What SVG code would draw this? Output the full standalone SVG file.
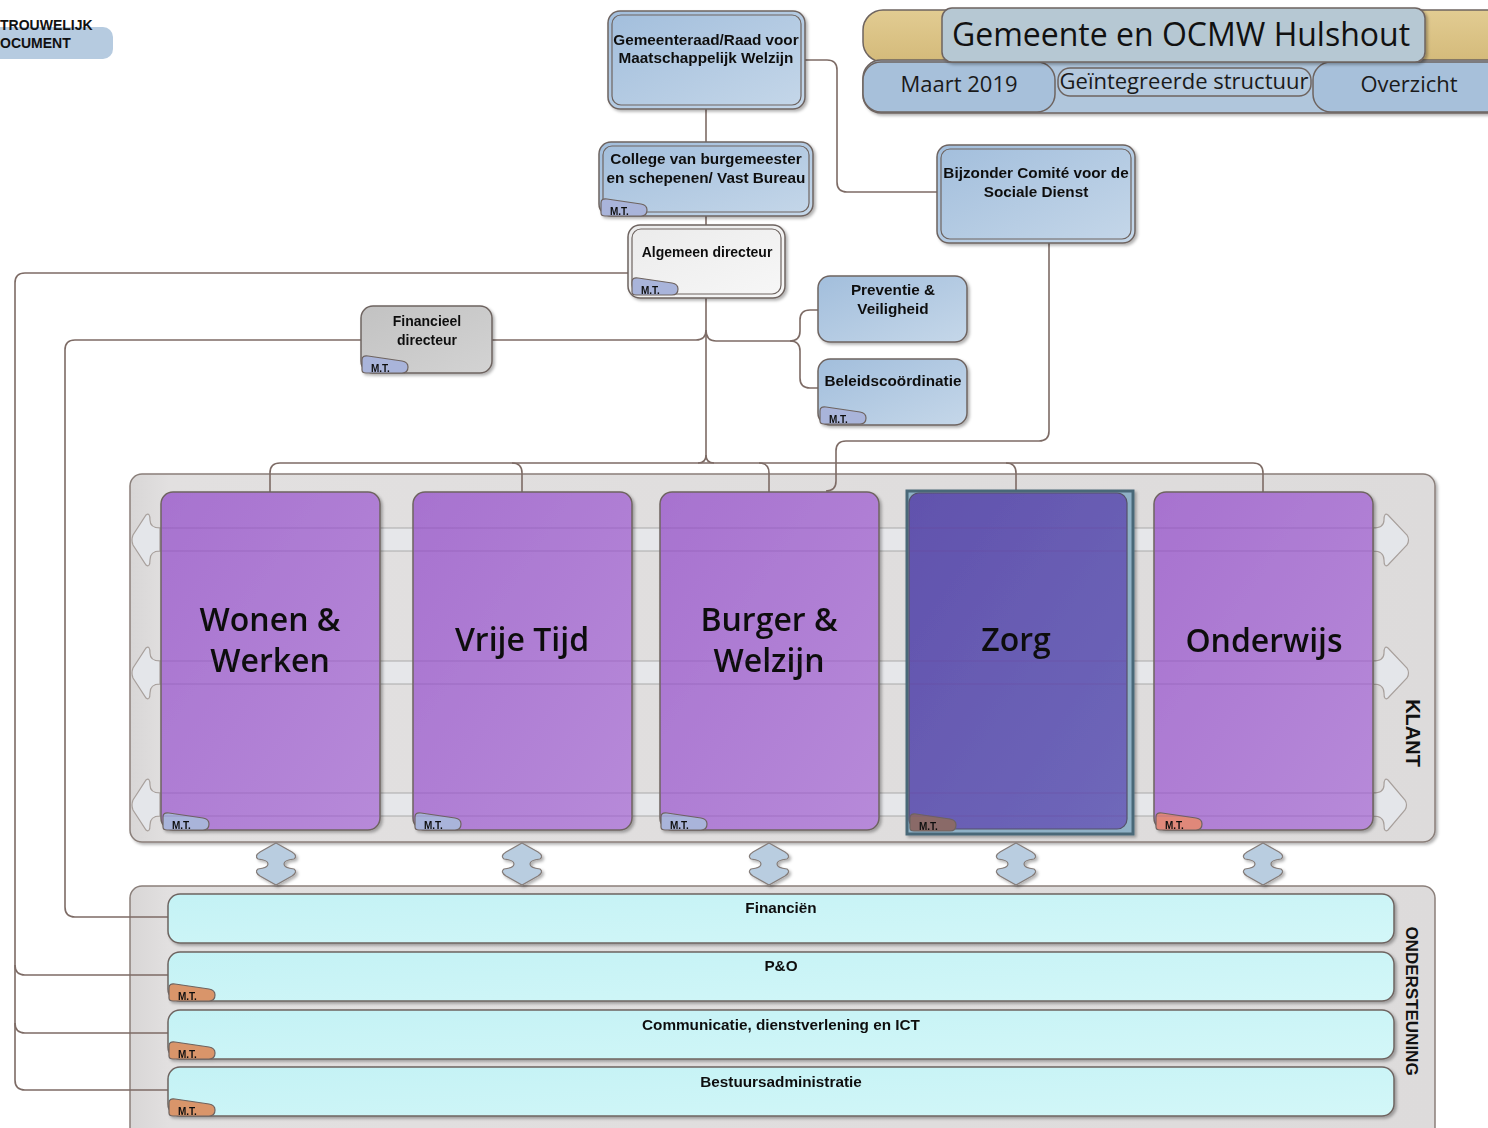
<svg xmlns="http://www.w3.org/2000/svg" xmlns:xlink="http://www.w3.org/1999/xlink" width="1488" height="1128" viewBox="0 0 1488 1128">
<style>
.t{font-family:"Liberation Sans",Arial,sans-serif;font-weight:bold;font-size:15.3px;fill:#111;text-anchor:middle}
.t14{font-size:14px}
.big{font-family:"Open Sans","Noto Sans",sans-serif;font-weight:600;font-size:32px;fill:#111;text-anchor:middle}
.hdr{font-family:"Open Sans","Noto Sans",sans-serif;font-size:22px;fill:#1a1a1a;text-anchor:middle}
.st{stroke:#6e6460;stroke-width:1.5}
.con{fill:none;stroke:#7d6b65;stroke-width:1.6}
.blue{fill:url(#gBlue)}
.arr{fill:#e4e6ea;stroke:#a8a09c;stroke-width:1.2}
.varr{fill:#b9cde0;stroke:#857d7a;stroke-width:1.2}
.strip{fill:#e6e7ea;stroke:#aaa;stroke-width:1}
.row{fill:url(#gCyan);stroke:#6e6460;stroke-width:1.5}
.mtb{fill:#a9b4da}
.mto{fill:#d9956b}
</style>
<defs>
<linearGradient id="gBlue" x1="0" y1="0" x2="1" y2="1"><stop offset="0" stop-color="#a2bedc"/><stop offset="1" stop-color="#c5d7e9"/></linearGradient>
<linearGradient id="gGray" x1="0" y1="0" x2="1" y2="1"><stop offset="0" stop-color="#c2c2c2"/><stop offset="1" stop-color="#d3d3d3"/></linearGradient>
<linearGradient id="gWhite" x1="0" y1="0" x2="1" y2="1"><stop offset="0" stop-color="#ebebeb"/><stop offset="1" stop-color="#f7f7f7"/></linearGradient>
<linearGradient id="gPurple" x1="0" y1="0" x2="1" y2="1"><stop offset="0" stop-color="#a772cf"/><stop offset="1" stop-color="#b78ad9"/></linearGradient>
<linearGradient id="gZorg" x1="0" y1="0" x2="1" y2="1"><stop offset="0" stop-color="#6152ad"/><stop offset="1" stop-color="#6f68ba"/></linearGradient>
<linearGradient id="gCyan" x1="0" y1="0" x2="1" y2="1"><stop offset="0" stop-color="#c4f2f5"/><stop offset="1" stop-color="#d3f7f8"/></linearGradient>
<linearGradient id="gTan" x1="0" y1="0" x2="0" y2="1"><stop offset="0" stop-color="#e2cc92"/><stop offset="1" stop-color="#d4ba7a"/></linearGradient>
<linearGradient id="gCont" x1="0" y1="0" x2="1" y2="0"><stop offset="0" stop-color="#d8d6d6"/><stop offset="0.03" stop-color="#e2e0e0"/><stop offset="1" stop-color="#dddbdb"/></linearGradient>
<filter id="sh" x="-5%" y="-5%" width="115%" height="120%"><feDropShadow dx="2" dy="2" stdDeviation="1.5" flood-color="#000" flood-opacity="0.3"/></filter>
<g id="mt">
<path d="M0,-3 V-13 Q0,-18 6,-17 L40,-12 Q46,-11 46,-6 Q46,0 40,0 H4 Q0,0 0,-3 Z" stroke="#6e6460" stroke-width="1.2"/>
<text x="9" y="-1.5" font-family="Liberation Sans,Arial,sans-serif" font-weight="bold" font-size="10" fill="#111">M.T.</text>
</g>
</defs>

<!-- top-left badge -->
<g id="badge">
<rect x="-20" y="27" width="133" height="32" rx="10" fill="#b6cbe0"/>
<text x="0" y="30" font-family="Liberation Sans,Arial,sans-serif" font-weight="bold" font-size="14" fill="#111">TROUWELIJK</text>
<text x="0" y="48" font-family="Liberation Sans,Arial,sans-serif" font-weight="bold" font-size="14" fill="#111">OCUMENT</text>
</g>

<!-- header -->
<g id="header">
<rect x="863" y="10" width="650" height="52" rx="20" fill="url(#gTan)" class="st"/>
<rect x="863" y="60" width="650" height="53" rx="18" fill="#b0c6dc" class="st" filter="url(#sh)"/>
<rect x="863" y="62" width="192" height="50" rx="18" fill="#a7c0da" class="st"/>
<rect x="1313" y="62" width="200" height="50" rx="18" fill="#a7c0da" class="st"/>
<rect x="1058" y="68" width="253" height="28" rx="12" fill="#b4c9de" class="st"/>
<rect x="942" y="8" width="483" height="54" rx="10" fill="#b6c8d3" class="st" filter="url(#sh)"/>
<text x="1181" y="46" font-family="Open Sans,Noto Sans,sans-serif" font-size="32" font-weight="500" fill="#111" text-anchor="middle">Gemeente en OCMW Hulshout</text>
<text x="959" y="92" class="hdr">Maart 2019</text>
<text x="1184" y="89" class="hdr" font-size="18.6">Geïntegreerde structuur</text>
<text x="1409" y="92" class="hdr">Overzicht</text>
</g>

<!-- containers -->
<g id="klant">
<rect x="130" y="474" width="1305" height="368" rx="12" fill="url(#gCont)" stroke="#8a7f7a" stroke-width="1.5" filter="url(#sh)"/>
<rect x="140" y="528" width="1250" height="23" class="strip"/>
<rect x="140" y="661" width="1250" height="23" class="strip"/>
<rect x="140" y="793" width="1250" height="23" class="strip"/>
<path class="arr" d="M160,528 Q150,528 150,520 Q150,512 146,515 L133,535 Q131,540 133,545 L146,565 Q150,568 150,560 Q150,551 160,551 Z"/>
<path class="arr" d="M160,661 Q150,661 150,653 Q150,645 146,648 L133,668 Q131,673 133,678 L146,698 Q150,701 150,693 Q150,684 160,684 Z"/>
<path class="arr" d="M160,793 Q150,793 150,785 Q150,777 146,780 L133,800 Q131,805 133,810 L146,830 Q150,833 150,825 Q150,816 160,816 Z"/>
<path class="arr" d="M1373,528 Q1384,528 1384,520 Q1384,512 1388,515 L1407,535 Q1410,540 1407,545 L1388,565 Q1384,568 1384,560 Q1384,551 1373,551 Z"/>
<path class="arr" d="M1373,661 Q1384,661 1384,653 Q1384,645 1388,648 L1407,668 Q1410,673 1407,678 L1388,698 Q1384,701 1384,693 Q1384,684 1373,684 Z"/>
<path class="arr" d="M1373,793 Q1384,793 1384,785 Q1384,777 1388,780 L1405,800 Q1408,805 1405,810 L1388,830 Q1384,833 1384,825 Q1384,816 1373,816 Z"/>
<text transform="translate(1406,733) rotate(90)" font-family="Liberation Sans,Arial,sans-serif" font-weight="bold" font-size="20" fill="#111" text-anchor="middle">KLANT</text>
</g>

<g id="ondersteuning">
<rect x="130" y="886" width="1305" height="260" rx="12" fill="url(#gCont)" stroke="#8a7f7a" stroke-width="1.5"/>
<text transform="translate(1406,1001) rotate(90)" font-family="Liberation Sans,Arial,sans-serif" font-weight="bold" font-size="17" fill="#111" text-anchor="middle">ONDERSTEUNING</text>
</g>

<!-- connectors -->
<g id="connectors">
<path class="con" d="M706,109 V142"/>
<path class="con" d="M706,216 V225"/>
<path class="con" d="M805,60 H827 Q837,60 837,70 V182 Q837,192 847,192 H937"/>
<path class="con" d="M628,273 H25 Q15,273 15,283 V1080 Q15,1090 25,1090 H168"/>
<path class="con" d="M15,965 Q15,975 25,975 H168"/>
<path class="con" d="M15,1023 Q15,1033 25,1033 H168"/>
<path class="con" d="M361,340 H75 Q65,340 65,350 V907 Q65,917 75,917 H168"/>
<path class="con" d="M706,298 V455 Q706,463 698,463"/>
<path class="con" d="M706,455 Q706,463 714,463"/>
<path class="con" d="M706,330 Q706,340 696,340 H492"/>
<path class="con" d="M706,330 Q706,341 716,341 H790 Q800,341 800,331 V320 Q800,310 810,310 H818"/>
<path class="con" d="M790,341 Q800,341 800,351 V378 Q800,388 810,388 H818"/>
<path class="con" d="M270,492 V473 Q270,463 280,463 H1253 Q1263,463 1263,473 V492"/>
<path class="con" d="M512,463 Q522,463 522,473 V492"/>
<path class="con" d="M759,463 Q769,463 769,473 V492"/>
<path class="con" d="M1006,463 Q1016,463 1016,473 V490"/>
<path class="con" d="M1049,243 V431 Q1049,441 1039,441 H846 Q836,441 836,451 V481 Q836,491 826,491"/>
</g>

<!-- top nodes -->
<g id="gemeenteraad" filter="url(#sh)">
<rect x="608" y="11" width="197" height="98" rx="12" class="blue st"/>
<rect x="612" y="15" width="189" height="90" rx="9" fill="none" stroke="#6e6460" stroke-width="1.2"/>
<text x="706" y="45" class="t">Gemeenteraad/Raad voor</text>
<text x="706" y="63" class="t">Maatschappelijk Welzijn</text>
</g>

<g id="college" filter="url(#sh)">
<rect x="599" y="142" width="214" height="74" rx="12" class="blue st"/>
<rect x="603" y="146" width="206" height="66" rx="9" fill="none" stroke="#6e6460" stroke-width="1.2"/>
<text x="706" y="164" class="t">College van burgemeester</text>
<text x="706" y="183" class="t">en schepenen/ Vast Bureau</text>
<use xlink:href="#mt" x="601" y="216" class="mtb"/>
</g>

<g id="algemeen" filter="url(#sh)">
<rect x="628" y="225" width="157" height="73" rx="12" fill="url(#gWhite)" class="st"/>
<rect x="632" y="229" width="149" height="65" rx="9" fill="none" stroke="#6e6460" stroke-width="1.2"/>
<text x="707" y="257" class="t t14">Algemeen directeur</text>
<use xlink:href="#mt" x="632" y="295" class="mtb"/>
</g>

<g id="comite" filter="url(#sh)">
<rect x="937" y="145" width="198" height="98" rx="12" class="blue st"/>
<rect x="941" y="149" width="190" height="90" rx="9" fill="none" stroke="#6e6460" stroke-width="1.2"/>
<text x="1036" y="178" class="t">Bijzonder Comité voor de</text>
<text x="1036" y="197" class="t">Sociale Dienst</text>
</g>

<g id="preventie" filter="url(#sh)">
<rect x="818" y="276" width="149" height="66" rx="12" class="blue st"/>
<text x="893" y="295" class="t">Preventie &amp;</text>
<text x="893" y="314" class="t">Veiligheid</text>
</g>

<g id="beleid" filter="url(#sh)">
<rect x="818" y="359" width="149" height="66" rx="12" class="blue st"/>
<text x="893" y="386" class="t">Beleidscoördinatie</text>
<use xlink:href="#mt" x="820" y="424" class="mtb"/>
</g>

<g id="financieel" filter="url(#sh)">
<rect x="361" y="306" width="131" height="67" rx="12" fill="url(#gGray)" class="st"/>
<text x="427" y="326" class="t t14">Financieel</text>
<text x="427" y="345" class="t t14">directeur</text>
<use xlink:href="#mt" x="362" y="373" class="mtb"/>
</g>

<!-- columns -->
<g id="wonen" filter="url(#sh)">
<rect x="161" y="492" width="219" height="338" rx="12" fill="url(#gPurple)" class="st"/>
<text x="270" y="631" class="big">Wonen &amp;</text>
<text x="270" y="672" class="big">Werken</text>
<use xlink:href="#mt" x="163" y="830" class="mtb"/>
</g>
<g id="vrijetijd" filter="url(#sh)">
<rect x="413" y="492" width="219" height="338" rx="12" fill="url(#gPurple)" class="st"/>
<text x="522" y="651" class="big">Vrije Tijd</text>
<use xlink:href="#mt" x="415" y="830" class="mtb"/>
</g>
<g id="burger" filter="url(#sh)">
<rect x="660" y="492" width="219" height="338" rx="12" fill="url(#gPurple)" class="st"/>
<text x="769" y="631" class="big">Burger &amp;</text>
<text x="769" y="672" class="big">Welzijn</text>
<use xlink:href="#mt" x="661" y="830" class="mtb"/>
</g>
<g id="zorg" filter="url(#sh)">
<rect x="907" y="491" width="226" height="343" fill="#8fb1c6" stroke="#4a6878" stroke-width="3"/>
<rect x="909" y="493" width="218" height="336" rx="10" fill="url(#gZorg)" stroke="#55506a" stroke-width="1.2"/>
<text x="1016" y="651" class="big">Zorg</text>
<use xlink:href="#mt" x="910" y="831" fill="#8a6a68"/>
</g>
<g id="onderwijs" filter="url(#sh)">
<rect x="1154" y="492" width="219" height="338" rx="12" fill="url(#gPurple)" class="st"/>
<text x="1264" y="652" class="big">Onderwijs</text>
<use xlink:href="#mt" x="1156" y="830" fill="#e0887a"/>
</g>

<!-- strip lines across columns -->
<g opacity="0.25" stroke="#6a3a8a" stroke-width="1">
<path d="M162,528 H379 M162,551 H379 M162,661 H379 M162,684 H379 M162,793 H379 M162,816 H379"/>
<path d="M414,528 H631 M414,551 H631 M414,661 H631 M414,684 H631 M414,793 H631 M414,816 H631"/>
<path d="M661,528 H878 M661,551 H878 M661,661 H878 M661,684 H878 M661,793 H878 M661,816 H878"/>
<path d="M910,528 H1126 M910,551 H1126 M910,661 H1126 M910,684 H1126 M910,793 H1126 M910,816 H1126"/>
<path d="M1155,528 H1372 M1155,551 H1372 M1155,661 H1372 M1155,684 H1372 M1155,793 H1372 M1155,816 H1372"/>
</g>

<!-- vertical double arrows -->
<g id="varrows" filter="url(#sh)">
<path class="varr" transform="translate(276,0)" d="M0,843 L16,852 Q22,856 18,859 Q8,860 8,864 Q8,868 18,869 Q22,872 16,876 L0,885 L-16,876 Q-22,872 -18,869 Q-8,868 -8,864 Q-8,860 -18,859 Q-22,856 -16,852 Z"/>
<path class="varr" transform="translate(522,0)" d="M0,843 L16,852 Q22,856 18,859 Q8,860 8,864 Q8,868 18,869 Q22,872 16,876 L0,885 L-16,876 Q-22,872 -18,869 Q-8,868 -8,864 Q-8,860 -18,859 Q-22,856 -16,852 Z"/>
<path class="varr" transform="translate(769,0)" d="M0,843 L16,852 Q22,856 18,859 Q8,860 8,864 Q8,868 18,869 Q22,872 16,876 L0,885 L-16,876 Q-22,872 -18,869 Q-8,868 -8,864 Q-8,860 -18,859 Q-22,856 -16,852 Z"/>
<path class="varr" transform="translate(1016,0)" d="M0,843 L16,852 Q22,856 18,859 Q8,860 8,864 Q8,868 18,869 Q22,872 16,876 L0,885 L-16,876 Q-22,872 -18,869 Q-8,868 -8,864 Q-8,860 -18,859 Q-22,856 -16,852 Z"/>
<path class="varr" transform="translate(1263,0)" d="M0,843 L16,852 Q22,856 18,859 Q8,860 8,864 Q8,868 18,869 Q22,872 16,876 L0,885 L-16,876 Q-22,872 -18,869 Q-8,868 -8,864 Q-8,860 -18,859 Q-22,856 -16,852 Z"/>
</g>

<!-- support rows -->
<g id="financien" filter="url(#sh)">
<rect x="168" y="894" width="1226" height="49" rx="12" class="row"/>
<text x="781" y="913" class="t">Financiën</text>
</g>
<g id="peno" filter="url(#sh)">
<rect x="168" y="952" width="1226" height="49" rx="12" class="row"/>
<text x="781" y="971" class="t">P&amp;O</text>
<use xlink:href="#mt" x="169" y="1001" class="mto"/>
</g>
<g id="communicatie" filter="url(#sh)">
<rect x="168" y="1010" width="1226" height="49" rx="12" class="row"/>
<text x="781" y="1030" class="t">Communicatie, dienstverlening en ICT</text>
<use xlink:href="#mt" x="169" y="1059" class="mto"/>
</g>
<g id="bestuur" filter="url(#sh)">
<rect x="168" y="1067" width="1226" height="49" rx="12" class="row"/>
<text x="781" y="1087" class="t">Bestuursadministratie</text>
<use xlink:href="#mt" x="169" y="1116" class="mto"/>
</g>
</svg>
